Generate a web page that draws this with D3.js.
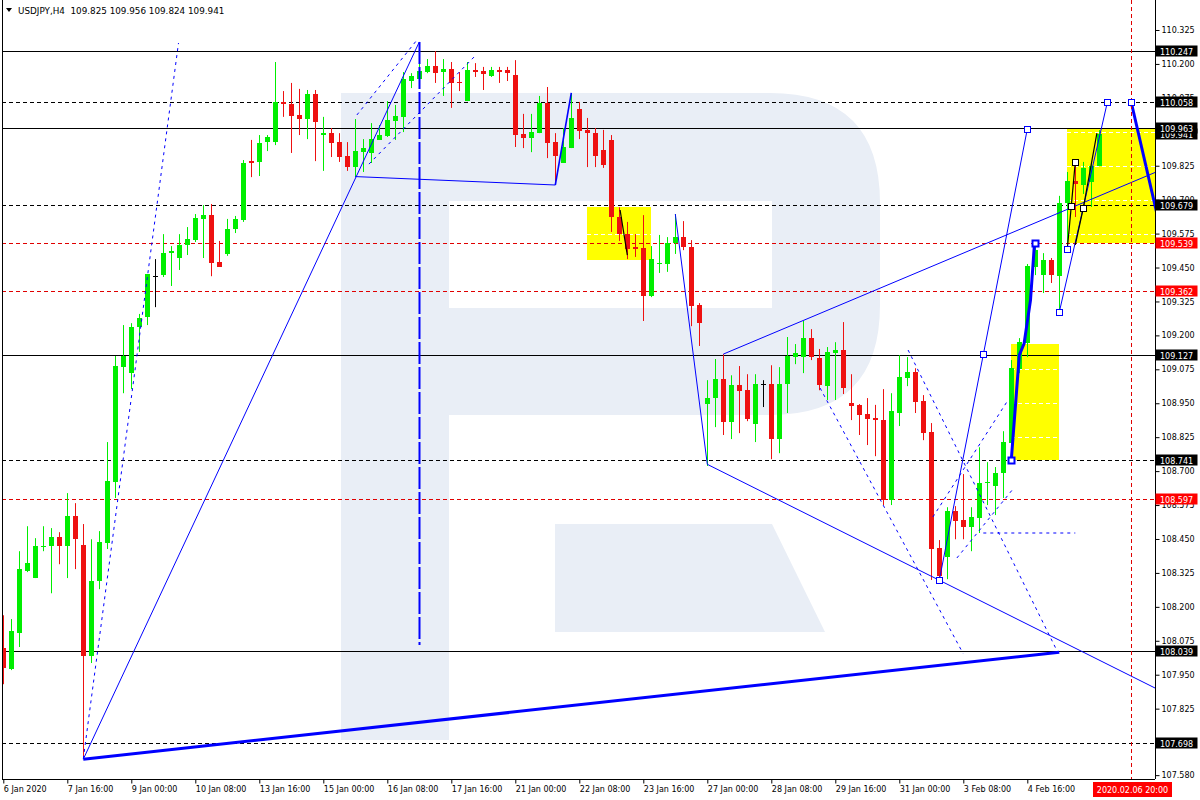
<!DOCTYPE html>
<html lang="en">
<head>
<meta charset="utf-8">
<title>USDJPY,H4</title>
<script src="https://cdn.jsdelivr.net/npm/d3@7"></script>
<style>
  body { margin: 0; padding: 0; background: #fff; overflow: hidden; }
  text { font-family: "DejaVu Sans", Tahoma, sans-serif; }
</style>
</head>
<body>
<script>
// candles, H4, first bar 6 Jan 08:00
var opens = [108.048,107.971,108.103,108.332,108.306,108.420,108.424,108.457,108.424,108.534,
  108.427,108.018,108.295,108.435,108.660,109.083,109.061,109.231,109.268,109.418,
  109.422,109.503,109.485,109.533,109.551,109.629,109.643,109.470,109.500,109.592,
  109.625,109.842,109.839,109.912,109.912,110.060,110.052,110.012,109.997,110.089,
  109.938,109.945,109.912,109.861,109.820,109.875,109.872,109.920,109.934,109.990,
  110.005,110.137,110.144,110.170,110.192,110.170,110.181,110.133,110.063,110.178,
  110.174,110.155,110.178,110.178,110.159,109.942,109.927,109.945,110.056,109.912,
  109.835,109.890,110.034,109.957,109.945,109.883,109.920,109.636,109.573,109.525,
  109.522,109.345,109.463,109.463,109.540,109.562,109.525,109.312,108.947,108.969,
  109.039,108.880,109.017,108.998,108.873,109.020,109.020,108.818,109.020,109.120,
  109.120,109.190,109.117,109.013,109.135,109.146,108.951,108.944,108.910,108.896,
  108.888,108.593,108.914,109.042,109.064,108.958,108.844,108.416,108.383,108.553,
  108.520,108.494,108.527,108.656,108.645,108.693,108.803,109.076,109.172,109.452,
  109.422,109.478,109.418,109.688,109.769,109.754,109.765,109.825];
var highs = [108.169,108.155,108.405,108.497,108.453,108.497,108.490,108.475,108.619,108.582,
  108.505,108.449,108.479,108.807,109.124,109.238,109.245,109.279,109.426,109.481,
  109.573,109.529,109.573,109.599,109.647,109.680,109.684,109.548,109.629,109.640,
  109.846,109.920,109.938,109.938,110.207,110.100,110.130,110.108,110.104,110.104,
  110.005,109.964,109.945,109.912,109.997,109.923,109.982,109.975,110.063,110.049,
  110.170,110.166,110.230,110.218,110.247,110.218,110.207,110.170,110.207,110.203,
  110.189,110.189,110.189,110.189,110.214,110.016,110.016,110.082,110.115,109.945,
  109.964,110.093,110.060,110.001,109.964,109.957,109.938,109.672,109.618,109.573,
  109.643,109.529,109.570,109.562,109.647,109.621,109.551,109.319,109.035,109.113,
  109.131,109.053,109.087,109.057,109.057,109.035,109.090,109.083,109.194,109.168,
  109.253,109.223,109.150,109.157,109.175,109.249,109.057,108.947,108.969,108.944,
  109.002,108.987,109.127,109.120,109.079,108.980,108.877,108.446,108.567,108.571,
  108.689,108.567,108.788,108.733,108.715,108.847,109.109,109.190,109.463,109.537,
  109.503,109.485,109.714,109.802,109.842,109.839,109.839,109.956];
var lows = [107.915,107.967,108.052,108.328,108.306,108.405,108.250,108.357,108.306,108.339,
  107.639,107.993,108.265,108.413,108.601,108.987,109.002,109.139,109.238,109.304,
  109.415,109.382,109.441,109.496,109.544,109.485,109.418,109.452,109.493,109.577,
  109.618,109.783,109.787,109.879,109.901,110.005,109.872,109.938,109.923,109.842,
  109.806,109.857,109.839,109.806,109.783,109.802,109.835,109.920,109.931,109.920,
  109.949,110.111,110.144,110.166,110.130,110.082,110.038,110.100,110.063,110.152,
  110.104,110.152,110.130,110.137,109.894,109.890,109.875,109.945,109.853,109.754,
  109.835,109.890,109.923,109.820,109.820,109.817,109.581,109.548,109.481,109.489,
  109.253,109.341,109.430,109.434,109.500,109.514,109.234,109.161,108.719,108.862,
  108.833,108.818,108.840,108.884,108.807,108.936,108.744,108.766,108.914,109.094,
  109.061,109.109,108.998,108.962,108.962,108.984,108.888,108.833,108.796,108.755,
  108.575,108.575,108.866,109.013,108.914,108.814,108.299,108.298,108.302,108.449,
  108.449,108.405,108.472,108.575,108.538,108.601,108.796,109.061,109.120,109.422,
  109.356,109.393,109.294,109.540,109.636,109.721,109.673,109.824];
var closes = [107.974,108.110,108.339,108.361,108.424,108.424,108.457,108.424,108.534,108.450,
  108.018,108.295,108.438,108.663,109.087,109.124,109.231,109.264,109.426,109.418,
  109.503,109.511,109.533,109.555,109.632,109.643,109.467,109.452,109.592,109.629,
  109.835,109.835,109.909,109.931,110.060,110.052,110.008,109.997,110.089,109.986,
  109.945,109.909,109.857,109.820,109.879,109.890,109.923,109.938,109.993,110.008,
  110.144,110.155,110.174,110.192,110.166,110.181,110.130,110.130,110.178,110.170,
  110.163,110.178,110.170,110.166,109.938,109.927,109.949,110.056,109.909,109.861,
  109.894,110.001,109.953,109.945,109.861,109.827,109.636,109.573,109.518,109.518,
  109.345,109.481,109.467,109.540,109.562,109.525,109.308,109.245,108.969,109.039,
  108.880,109.017,108.995,108.891,109.020,109.020,108.818,109.020,109.124,109.135,
  109.190,109.120,109.017,109.139,109.146,109.006,108.940,108.907,108.891,108.888,
  108.593,108.921,109.046,109.064,108.954,108.840,108.413,108.313,108.552,108.516,
  108.494,108.531,108.656,108.660,108.693,108.807,109.079,109.175,109.455,109.514,
  109.478,109.422,109.688,109.769,109.758,109.817,109.825,109.941];

var dateIdx = [0,8,16,24,32,40,48,56,64,72,80,88,96,104,112,120,128];
var dateLabels = ["6 Jan 2020","7 Jan 16:00","9 Jan 00:00","10 Jan 08:00","13 Jan 16:00",
  "15 Jan 00:00","16 Jan 08:00","17 Jan 16:00","21 Jan 00:00","22 Jan 08:00","23 Jan 16:00",
  "27 Jan 00:00","28 Jan 08:00","29 Jan 16:00","31 Jan 00:00","3 Feb 08:00","4 Feb 16:00"];
var cursorIdx = 141, cursorLabel = "2020.02.06 20:00";

var priceTicks = [110.325,110.200,110.075,109.950,109.825,109.700,109.575,109.450,109.325,
  109.200,109.075,108.950,108.825,108.700,108.575,108.450,108.325,108.200,108.075,107.950,
  107.825,107.700,107.580];

var levelPrices = [110.247,110.058,109.963,109.679,109.539,109.362,109.127,108.741,108.597,108.039,107.698];
var levelKinds  = ["solid","dash","solid","dash","red","red","solid","dash","red","solid","dash"];
var lastPrice = 109.941;

var header = "USDJPY,H4  109.825 109.956 109.824 109.941";

// drawn objects: [bar index, price]
var yellowBoxes = [[73,81,109.673,109.478],[126,132,109.168,108.741],[133,145,109.960,109.540]];
var thinLines = [
  [[10,107.639],[52,110.281]],
  [[44,109.785],[69,109.754]],
  [[84,109.647],[88,108.725]],
  [[117,108.298],[128,109.960]],
  [[132,109.286],[138,110.058]]
];
var medLines = [[[69,109.754],[71,110.093]]];
var rays = [
  [[88,108.725],[117,108.298]],
  [[90,109.131],[100,109.255]]
];
var thickLines = [
  [[10,107.639],[132,108.033]],
  [[126,108.741],[127,109.127],[127.6,109.17],[128.4,109.33],[128.9,109.539]],
  [[141,110.058],[144.5,109.61]]
];
var dottedLines = [
  [[10,107.64],[21.9,110.277]],
  [[44.2,110.012],[51.7,110.288]],
  [[45.7,109.831],[58.96,110.229]],
  [[102.1,109.006],[119.96,108.029]],
  [[113.1,109.146],[131.8,108.033]],
  [[116.2,108.531],[125.6,108.962]],
  [[119.2,108.380],[126.1,108.630]],
  [[122.5,108.472],[134,108.472]]
];
var blackLines = [
  [[77.1,109.662],[78,109.496]],
  [[133,109.518],[133.5,109.677],[134,109.839]],
  [[134,109.533],[135,109.669],[136.7,109.945]]
];
var blueSquares = [[117,108.298],[122.5,109.131],[128,109.960],[132,109.286],[138,110.058],[141,110.058],[133,109.518]];
var thickSquares = [[126,108.741],[128.9,109.539]];
var blackSquares = [[133.5,109.677],[134,109.839],[135,109.669]];
var vLine = [52, 110.281, 108.059];

var W = 1200, H = 800, plotL = 2, plotR = 1155, plotB = 779;
var x = d3.scaleLinear().domain([0, 141]).range([3.3, 1131.3]);
var y = d3.scaleLinear().domain([107.5695, 110.4355]).range([778, 0]);

var svg = d3.select('body').append('svg')
  .attr('width', W).attr('height', H)
  .style('display', 'block');

svg.append('rect').attr('width', W).attr('height', H).attr('fill', '#fff');

svg.append('defs').append('clipPath').attr('id', 'plot')
  .append('rect').attr('x', plotL).attr('y', 0).attr('width', plotR - plotL).attr('height', plotB);

var plot = svg.append('g').attr('clip-path', 'url(#plot)');

// watermark logo
plot.append('path')
  .attr('d', 'M341,93 H770 Q880,93 880,203 V305 Q880,415 770,415 H449 V740 H341 Z M449,201 H772 V308 H449 Z')
  .attr('fill', '#e9eef6').attr('fill-rule', 'evenodd');
plot.append('path')
  .attr('d', 'M555,524 H772 L825,632 H555 Z')
  .attr('fill', '#e9eef6');

// yellow boxes + white grid inside them
yellowBoxes.forEach(function (b) {
  var x0 = Math.round(x(b[0])), x1 = Math.round(x(b[1]));
  var y0 = Math.round(y(b[2])), y1 = Math.round(y(b[3]));
  plot.append('rect').attr('x', x0).attr('y', y0).attr('width', x1 - x0).attr('height', y1 - y0)
    .attr('fill', '#ffff00');
  priceTicks.filter(function (p) { return p < b[2] && p > b[3]; }).forEach(function (p) {
    plot.append('line')
      .attr('x1', x0).attr('x2', x1)
      .attr('y1', Math.round(y(p)) + 0.5).attr('y2', Math.round(y(p)) + 0.5)
      .attr('stroke', '#fff').attr('stroke-dasharray', '4,3');
  });
});

// horizontal levels
levelPrices.forEach(function (p, k) {
  var kind = levelKinds[k];
  var yy = Math.round(y(p)) + 0.5;
  plot.append('line')
    .attr('x1', plotL).attr('x2', plotR).attr('y1', yy).attr('y2', yy)
    .attr('stroke', kind === 'red' ? '#e00000' : '#000')
    .attr('stroke-width', 1)
    .attr('stroke-dasharray', kind === 'solid' ? null : '4,3');
});

// candles
var up = '#00ee00', down = '#ee1111';
var cg = plot.append('g');
opens.forEach(function (o, i) {
  var c = closes[i];
  var cx = Math.round(x(i));
  var col = c > o ? up : (c < o ? down : '#000');
  cg.append('line')
    .attr('x1', cx + 0.5).attr('x2', cx + 0.5)
    .attr('y1', y(highs[i])).attr('y2', y(lows[i]))
    .attr('stroke', col).attr('stroke-width', 1);
  if (c === o) {
    cg.append('line')
      .attr('x1', cx - 2).attr('x2', cx + 3)
      .attr('y1', Math.round(y(o)) + 0.5).attr('y2', Math.round(y(o)) + 0.5)
      .attr('stroke', col);
  } else {
    var top = Math.round(y(Math.max(o, c))), bot = Math.round(y(Math.min(o, c)));
    cg.append('rect')
      .attr('x', cx - 2).attr('y', top)
      .attr('width', 5).attr('height', Math.max(1, bot - top))
      .attr('fill', col);
  }
});

var line = d3.line().x(function (d) { return x(d[0]); }).y(function (d) { return y(d[1]); });

function drawLines(list, color, width, dash) {
  list.forEach(function (pts) {
    plot.append('path').attr('d', line(pts))
      .attr('fill', 'none').attr('stroke', color).attr('stroke-width', width)
      .attr('stroke-dasharray', dash || null);
  });
}

drawLines(dottedLines, '#0000ff', 1, '3,4');
drawLines(thinLines, '#0000ff', 1);
drawLines(medLines, '#0000ff', 1.6);

// rays extend to the right edge
rays.forEach(function (r) {
  var a = r[0], b = r[1];
  var s = (b[1] - a[1]) / (b[0] - a[0]);
  var end = 146;
  plot.append('path').attr('d', line([a, [end, a[1] + s * (end - a[0])]]))
    .attr('fill', 'none').attr('stroke', '#0000ff').attr('stroke-width', 1);
});

drawLines(thickLines, '#0000ff', 3);
drawLines(blackLines, '#000', 1.2);

// vertical thick dashed
plot.append('line')
  .attr('x1', Math.round(x(vLine[0])) + 0.5).attr('x2', Math.round(x(vLine[0])) + 0.5)
  .attr('y1', y(vLine[1])).attr('y2', y(vLine[2]))
  .attr('stroke', '#0000ff').attr('stroke-width', 2).attr('stroke-dasharray', '22,3');

// cursor line
plot.append('line')
  .attr('x1', Math.round(x(cursorIdx)) + 0.5).attr('x2', Math.round(x(cursorIdx)) + 0.5)
  .attr('y1', 0).attr('y2', plotB)
  .attr('stroke', '#e00000').attr('stroke-dasharray', '4,3');

function squares(list, color, width) {
  list.forEach(function (d) {
    plot.append('rect')
      .attr('x', Math.round(x(d[0])) - 2.5).attr('y', Math.round(y(d[1])) - 2.5)
      .attr('width', 6).attr('height', 6)
      .attr('fill', '#fff').attr('stroke', color).attr('stroke-width', width);
  });
}
squares(blueSquares, '#0000ff', 1);
squares(thickSquares, '#0000ff', 2);
squares(blackSquares, '#000', 1);

// frame
svg.append('line').attr('x1', plotL + 0.5).attr('x2', plotL + 0.5).attr('y1', 0).attr('y2', plotB)
  .attr('stroke', '#000');

// right axis
var yAxis = d3.axisRight(y).tickValues(priceTicks).tickFormat(d3.format('.3f'))
  .tickSize(4).tickPadding(2);
var ya = svg.append('g').attr('transform', 'translate(' + (plotR + 0.5) + ',0)').call(yAxis);
ya.select('.domain').attr('d', 'M0,0V' + plotB);
ya.selectAll('text').attr('font-size', 8).attr('font-family', '"DejaVu Sans", Tahoma, sans-serif')
  .attr('fill', '#000');

// bottom axis
var xAxis = d3.axisBottom(x).tickValues(dateIdx)
  .tickFormat(function (d, k) { return dateLabels[k]; }).tickSize(4).tickPadding(3);
var xa = svg.append('g').attr('transform', 'translate(0,' + (plotB + 0.5) + ')').call(xAxis);
xa.select('.domain').attr('d', 'M' + plotL + ',0H' + plotR);
xa.selectAll('text').attr('font-size', 8).attr('text-anchor', 'start')
  .attr('font-family', '"DejaVu Sans", Tahoma, sans-serif').attr('fill', '#000');

// price labels on the axis
function priceBox(p, bg) {
  var yy = Math.round(y(p));
  svg.append('rect').attr('x', plotR + 0.5).attr('y', yy - 5.5).attr('width', 42).attr('height', 11)
    .attr('fill', bg);
  svg.append('text').attr('x', plotR + 5).attr('y', yy + 3.5).attr('font-size', 8)
    .attr('fill', '#fff').text(p.toFixed(3));
}
priceBox(lastPrice, '#000');
levelPrices.forEach(function (p, k) {
  priceBox(p, levelKinds[k] === 'red' ? '#ff0000' : '#000');
});

// time cursor label
var cx = Math.round(x(cursorIdx));
svg.append('rect').attr('x', cx - 38).attr('y', plotB + 3).attr('width', 79).attr('height', 15)
  .attr('fill', '#ff0000');
svg.append('text').attr('x', cx + 1.5).attr('y', plotB + 14).attr('text-anchor', 'middle')
  .attr('font-size', 8).attr('fill', '#fff').text(cursorLabel);

// header
svg.append('path').attr('d', 'M6,8 L12,8 L9,12 Z').attr('fill', '#000');
svg.append('text').attr('x', 18).attr('y', 14).attr('font-size', 8.8)
  .attr('fill', '#000').style('white-space', 'pre').text(header);
</script>
</body>
</html>
